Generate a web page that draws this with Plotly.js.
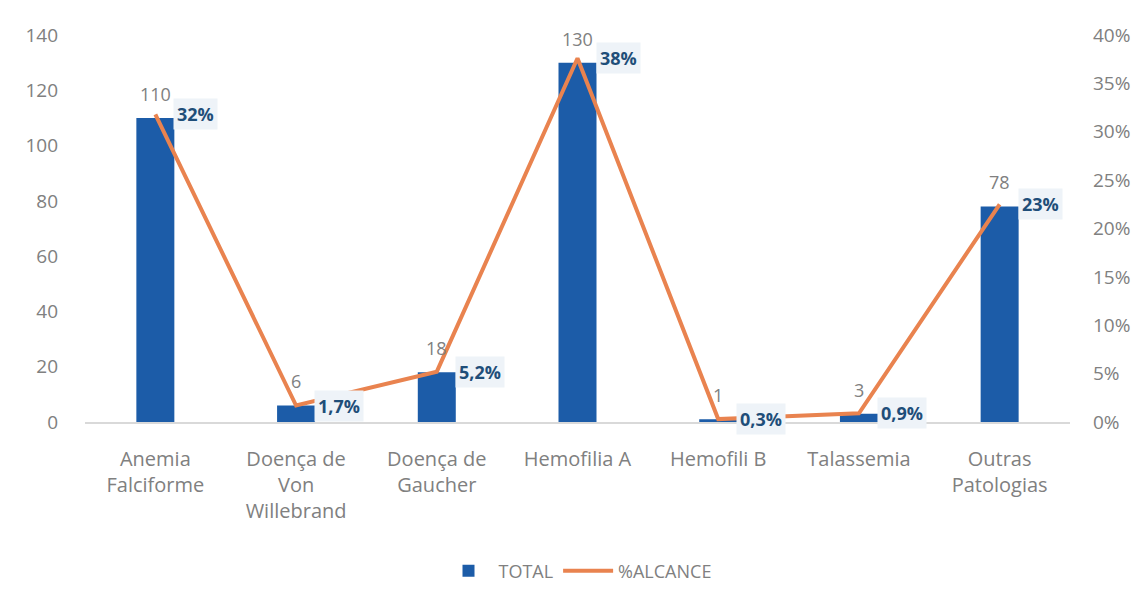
<!DOCTYPE html>
<html>
<head>
<meta charset="utf-8">
<script src="https://cdn.plot.ly/plotly-3.0.1.min.js"></script>
<style>html,body{margin:0;padding:0;background:#fff;}#chart{width:1146px;height:607px;}</style>
</head>
<body>
<div id="chart"></div>
<script>
const categories = ["Anemia<br>Falciforme", "Doença de<br>Von<br>Willebrand", "Doença de<br>Gaucher", "Hemofilia A", "Hemofili B", "Talassemia", "Outras<br>Patologias"];
const totals = [110, 6, 18, 130, 1, 3, 78];
const alcance = [0.318, 0.017, 0.052, 0.376, 0.003, 0.009, 0.225];
const alcanceLabels = ["32%", "1,7%", "5,2%", "38%", "0,3%", "0,9%", "23%"];
const leftTicks = [0, 20, 40, 60, 80, 100, 120, 140];
const rightTicks = [0, 0.05, 0.10, 0.15, 0.20, 0.25, 0.30, 0.35, 0.40];
const rightTickLabels = ["0%", "5%", "10%", "15%", "20%", "25%", "30%", "35%", "40%"];

const FONT = "Open Sans, Noto Sans, sans-serif";
const GRAY = "#808080";

const barTrace = {
  type: "bar", name: "TOTAL", x: categories, y: totals,
  marker: {color: "#1c5ca8"}, width: 0.27, yaxis: "y",
  hoverinfo: "x+y"
};
const lineTrace = {
  type: "scatter", mode: "lines", name: "%ALCANCE", x: categories, y: alcance,
  line: {color: "#e9834f", width: 4}, yaxis: "y2"
};

const annotations = [];
categories.forEach((c, i) => {
  annotations.push({
    x: c, y: totals[i], xref: "x", yref: "y", text: String(totals[i]),
    showarrow: false, yanchor: "bottom", yshift: 10,
    font: {family: FONT, size: 18, color: GRAY}
  });
  annotations.push({
    x: c, y: alcance[i], xref: "x", yref: "y2", text: "<b>" + alcanceLabels[i] + "</b>",
    showarrow: false, xanchor: "left", yanchor: "middle", xshift: 18,
    bgcolor: "#eef3f8", borderpad: 3,
    font: {family: FONT, size: 18, color: "#1f4e79"}
  });
});

const layout = {
  width: 1146, height: 607,
  margin: {l: 85, r: 76, t: 35, b: 185},
  paper_bgcolor: "#ffffff", plot_bgcolor: "#ffffff",
  font: {family: FONT, color: GRAY, size: 18},
  showlegend: true,
  legend: {orientation: "h", x: 0.5, xanchor: "center", y: -0.385, yanchor: "middle",
           font: {family: FONT, size: 18, color: GRAY}, itemwidth: 50},
  bargap: 0.7,
  xaxis: {
    type: "category", showgrid: false, zeroline: false,
    showline: true, linecolor: "#d9d9d9", linewidth: 1.5,
    ticks: "", ticklabelstandoff: 18,
    tickfont: {family: FONT, size: 20, color: GRAY}
  },
  yaxis: {
    range: [0, 140], tickvals: leftTicks, ticktext: leftTicks.map(String),
    showgrid: false, zeroline: false, showline: false, ticks: "",
    ticklabelstandoff: 26,
    tickfont: {family: FONT, size: 19, color: GRAY}
  },
  yaxis2: {
    range: [0, 0.40], overlaying: "y", side: "right",
    tickvals: rightTicks, ticktext: rightTickLabels,
    showgrid: false, zeroline: false, showline: false, ticks: "",
    ticklabelstandoff: 22,
    tickfont: {family: FONT, size: 19, color: GRAY}
  },
  annotations: annotations
};

Plotly.newPlot("chart", [barTrace, lineTrace], layout, {displayModeBar: false, staticPlot: true});
</script>
</body>
</html>
